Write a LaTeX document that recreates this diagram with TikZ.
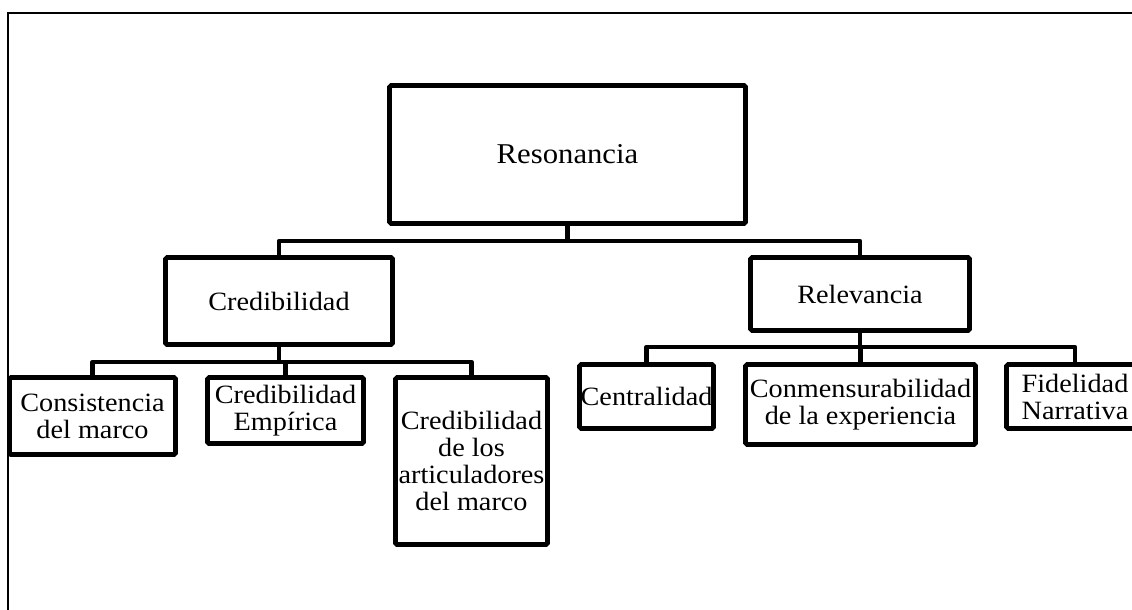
\documentclass[tikz,border=0pt]{standalone}
\usepackage{fontspec}
\setmainfont{Liberation Serif}[FakeStretch=1.07]
\begin{document}
\begin{tikzpicture}[x=1pt,y=-1pt,
  box/.style={draw, line width=4.6pt, rounded corners=1.5pt, inner sep=0pt,
    align=center, font=\fontsize{26.4}{27}\selectfont},
  conn/.style={line width=4.6pt, line join=round}]
\useasboundingbox (0,0) rectangle (1132,610);
% outer frame
\draw[line width=1.3pt] (8,620) -- (8,13) -- (1140,13);
% nodes
\node[box, minimum width=356, minimum height=138, font=\fontsize{28.7}{29}\selectfont] (res) at (567.5,154.5) {Resonancia};
\node[box, minimum width=227, minimum height=87] (cred) at (279,301) {Credibilidad};
\node[box, minimum width=219, minimum height=73] (rel) at (860,294) {Relevancia};
\node[box, minimum width=166, minimum height=77] (cons) at (92.5,416) {Consistencia\\del marco};
\node[box, minimum width=156, minimum height=66] (emp) at (285.5,410.5) {Credibilidad\\Empírica};
\node[box, minimum width=152, minimum height=167] (art) at (471.5,461) {Credibilidad\\de los\\articuladores\\del marco};
\node[box, minimum width=134, minimum height=64] (cent) at (646.5,396.5) {Centralidad};
\node[box, minimum width=230, minimum height=80] (conm) at (860.5,404.5) {Conmensurabilidad\\de la experiencia};
\node[box, minimum width=137, minimum height=64] (fid) at (1075,396.5) {Fidelidad\\Narrativa};
% bus coordinates
\coordinate (b1) at (567.5,241);
\coordinate (b2) at (279,362);
\coordinate (b3) at (860,347);
% connectors
\draw[conn] (res.south) -- (b1);
\draw[conn] (cred.north) |- (b1) -| (rel.north);
\draw[conn] (cred.south) -- (b2);
\draw[conn] (cons.north) |- (b2) -| (art.north);
\draw[conn] (emp.north) -- (emp.north |- b2);
\draw[conn] (rel.south) -- (b3);
\draw[conn] (cent.north) |- (b3) -| (fid.north);
\draw[conn] (conm.north) -- (conm.north |- b3);
\end{tikzpicture}
\end{document}
